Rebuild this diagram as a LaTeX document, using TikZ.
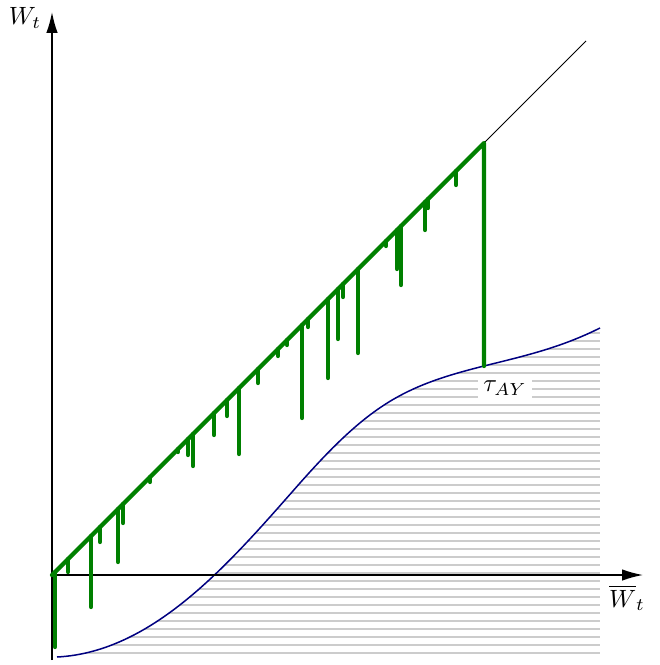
\documentclass[tikz,border=0pt]{standalone}
\usepackage{amsmath,amssymb}
\usetikzlibrary{arrows.meta}

\newcommand{\bdrypath}{(57,657) .. controls (155,652) and (232,560) .. (300,483)
  .. controls (370,404) and (404,386) .. (484,366)
  .. controls (524,356) and (560,348) .. (600,328)}

\begin{document}
\begin{tikzpicture}[
  x=0.4pt,y=-0.4pt,
  axis/.style={semithick, -{Latex[length=8.4pt,width=4.6pt]}},
  walk/.style={line width=1.7pt, green!50!black, line cap=round, line join=round},
  hatch/.style={line width=1pt, black!20},
  bound/.style={semithick, blue!50!black},
  lab/.style={fill=white, inner sep=2pt}
]
\useasboundingbox (0,0) rectangle (659,665);
\coordinate (O) at (52,575);
\coordinate (M) at (484,143);
\coordinate (T) at (484,366);
\coordinate (D) at (586,41);
\coordinate (ytip) at (52,12);
\coordinate (xtip) at (643,575);
% hatched region under the boundary
\begin{scope}
  \clip \bdrypath -- (600,662) -- (57,662) -- cycle;
  \foreach \k in {0,...,40}
    \draw[hatch] (40,{653-8*\k}) -- (600,{653-8*\k});
\end{scope}
\draw[bound] \bdrypath;
% axes and diagonal
\draw[axis] (52,660) -- (ytip);
\draw[axis] (O) -- (xtip);
\draw[thin] (O) -- (D);
% path of the walk
\draw[walk] (O) -- (M) -- (T);
\foreach \x/\y in {55/647, 68/572, 91/607, 100/542, 118/562, 123/523, 150/482,
  178/452, 188/455, 193/466, 214/435, 227/416, 239/454, 258/383, 278/356,
  287/345, 302/418, 308/327, 328/378, 338/339, 343/297, 358/353, 386/246,
  397/269, 401/285, 425/230, 428/208, 456/185}
  \draw[walk] (\x,{627-\x}) -- (\x,\y);
% labels
\node (wt) at (25,18) {$W_t$};
\node (wbar) at (627,598) {$\overline{W}_t$};
\node[lab] (tau) at (505,388) {$\tau_{AY}$};
\end{tikzpicture}
\end{document}
